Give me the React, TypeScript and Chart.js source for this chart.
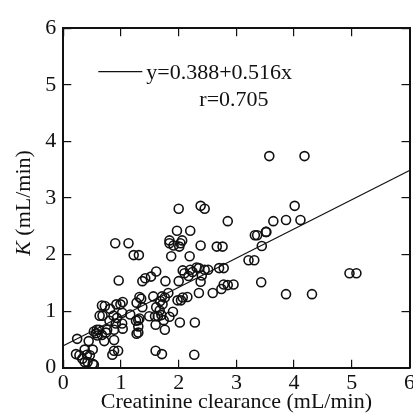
import React, { useEffect, useRef } from 'react';
import { Chart, registerables } from 'chart.js';

Chart.register(...registerables);

// Creatinine clearance (mL/min) for each observation
const creatinineClearance = [
  3.57, 4.18,
  2.38, 2.45, 2.0, 4.01, 2.85, 3.64, 3.86, 4.11, 1.97, 2.2, 3.32, 3.36, 3.51, 3.52,
  0.9, 1.13, 1.84, 1.84, 1.91, 2.06, 2.03, 2.01, 2.38, 2.66, 2.76, 3.44,
  1.22, 1.31, 1.87, 2.19, 3.21, 3.31, 2.7, 2.78, 2.31, 2.35, 2.45, 2.51,
  2.07, 2.2, 2.24, 2.1, 1.61, 1.52, 1.42, 1.37, 0.96, 1.77, 2.0, 2.38, 2.4, 2.17,
  3.43, 2.78, 2.85, 2.95, 2.74, 4.96, 5.08, 3.86, 4.31, 2.59, 2.35, 2.15, 2.07,
  1.98, 2.04, 1.82, 1.71, 1.76, 1.56, 1.68, 1.72, 1.61, 1.67, 1.9, 1.64, 1.7,
  1.59, 1.49, 1.84, 1.74, 1.6, 1.76, 2.02, 2.28,
  1.35, 1.32, 1.27, 1.37, 1.16, 1.02, 1.03, 0.99, 0.92, 0.67, 0.72, 0.81, 0.68,
  0.63, 0.87, 0.93, 0.8, 1.02, 0.91, 1.03, 0.88, 1.3, 1.32, 1.26, 1.3, 1.27, 1.3,
  0.76, 0.58, 0.62, 0.57, 0.53, 0.59, 0.67, 0.71, 0.74, 0.44, 0.24, 0.88,
  0.88, 0.95, 0.85, 0.51, 0.37, 0.22, 0.28, 0.41, 0.46, 0.33, 0.37, 0.42, 0.51,
  0.53, 1.6, 1.71, 2.27,
];

// K (mL/min) for each observation
const kValues = [
  3.74, 3.74,
  2.86, 2.81, 2.81, 2.86, 2.59, 2.59, 2.61, 2.61, 2.42, 2.42, 2.34, 2.34, 2.4, 2.4,
  2.2, 2.2, 2.25, 2.2, 2.16, 2.25, 2.2, 2.14, 2.16, 2.14, 2.14, 2.15,
  1.99, 1.99, 1.97, 1.97, 1.9, 1.9, 1.76, 1.76, 1.77, 1.76, 1.73, 1.73,
  1.72, 1.73, 1.69, 1.67, 1.7, 1.61, 1.58, 1.53, 1.54, 1.53, 1.53, 1.52, 1.63, 1.62,
  1.51, 1.47, 1.46, 1.47, 1.39, 1.67, 1.67, 1.3, 1.3, 1.32, 1.32, 1.25, 1.24,
  1.19, 1.19, 1.32, 1.26, 1.24, 1.26, 1.18, 1.12, 1.07, 1.01, 0.99, 0.91, 0.93,
  0.91, 0.91, 0.9, 0.84, 0.76, 0.67, 0.8, 0.8,
  1.22, 1.25, 1.15, 1.07, 0.94, 0.97, 1.16, 1.12, 1.12, 1.1, 1.09, 1.04, 0.92,
  0.92, 0.92, 0.88, 0.83, 0.78, 0.78, 0.69, 0.67, 0.84, 0.87, 0.83, 0.73, 0.6, 0.62,
  0.67, 0.67, 0.67, 0.61, 0.64, 0.57, 0.58, 0.47, 0.62, 0.47, 0.51, 0.49,
  0.3, 0.3, 0.23, 0.32, 0.32, 0.24, 0.22, 0.23, 0.22, 0.16, 0.1, 0.1, 0.07,
  0.05, 0.3, 0.24, 0.23,
];

// Regression line y = 0.388 + 0.516x
const fitIntercept = 0.388;
const fitSlope = 0.516;
const fitRangeX = [0, 6];

const axisMin = 0;
const axisMax = 6;
const axisStep = 1;

const legendEquation = 'y=0.388+0.516x';
const legendR = 'r=0.705';
const xTitle = 'Creatinine clearance (mL/min)';
const yTitleItalic = 'K';
const yTitleRest = ' (mL/min)';

const FONT = '"Liberation Serif", "Times New Roman", serif';
const FS = 22;
const INK = '#111';

const annotationPlugin = {
  id: 'annotations',
  afterDraw(chart: any) {
    const ctx = chart.ctx as CanvasRenderingContext2D;
    const { left, top } = chart.chartArea;
    ctx.save();
    // legend sample line
    ctx.strokeStyle = INK;
    ctx.lineWidth = 1.2;
    ctx.beginPath();
    ctx.moveTo(left + 35, top + 43.5);
    ctx.lineTo(left + 79, top + 43.5);
    ctx.stroke();
    ctx.fillStyle = INK;
    ctx.font = `${FS}px ${FONT}`;
    ctx.textAlign = 'left';
    ctx.textBaseline = 'alphabetic';
    ctx.fillText(legendEquation, left + 83, top + 50.5);
    ctx.fillText(legendR, left + 136, top + 77.5);

    // y axis title with italic K
    ctx.font = `italic ${FS}px ${FONT}`;
    const wK = ctx.measureText(yTitleItalic).width;
    ctx.font = `${FS}px ${FONT}`;
    const wR = ctx.measureText(yTitleRest).width;
    const total = wK + wR;
    const cy = (chart.chartArea.top + chart.chartArea.bottom) / 2 + 5;
    ctx.translate(24, cy);
    ctx.rotate(-Math.PI / 2);
    ctx.textBaseline = 'middle';
    ctx.font = `italic ${FS}px ${FONT}`;
    ctx.fillText(yTitleItalic, -total / 2, 0);
    ctx.font = `${FS}px ${FONT}`;
    ctx.fillText(yTitleRest, -total / 2 + wK, 0);
    ctx.restore();
  },
};

export default function App() {
  const ref = useRef<HTMLCanvasElement | null>(null);

  useEffect(() => {
    document.body.style.overflow = 'hidden';
    const canvas = ref.current;
    if (!canvas) return;

    const points = creatinineClearance.map((x, i) => ({ x, y: kValues[i] }));
    const fitPoints = fitRangeX.map((x) => ({ x, y: fitIntercept + fitSlope * x }));

    const tickFont = { family: FONT, size: FS };
    const hiddenAxis = (position: string, size: number) => ({
      type: 'linear',
      position,
      min: axisMin,
      max: axisMax,
      ticks: { display: false, stepSize: axisStep },
      grid: { drawOnChartArea: false, drawTicks: true, tickLength: -8, color: INK, lineWidth: 1.2 },
      border: { display: true, color: INK, width: 2 },
      afterFit: (scale: any) => {
        if (position === 'top') scale.height = size;
        else scale.width = size;
      },
    });

    const chart = new Chart(canvas, {
      type: 'scatter',
      data: {
        datasets: [
          {
            type: 'line',
            data: fitPoints,
            borderColor: INK,
            borderWidth: 1.2,
            pointRadius: 0,
            fill: false,
            order: 1,
          } as any,
          {
            data: points,
            pointRadius: 4.5,
            pointBorderWidth: 1.6,
            pointBorderColor: INK,
            pointBackgroundColor: 'rgba(0,0,0,0)',
            order: 2,
          },
        ],
      },
      options: {
        animation: false,
        responsive: false,
        devicePixelRatio: 1,
        layout: { padding: 0 },
        plugins: { legend: { display: false }, tooltip: { enabled: false } },
        scales: {
          x: {
            type: 'linear',
            position: 'bottom',
            min: axisMin,
            max: axisMax,
            ticks: { stepSize: axisStep, font: tickFont, color: INK, padding: 10, maxRotation: 0 },
            grid: { drawOnChartArea: false, drawTicks: true, tickLength: -8, color: INK, lineWidth: 1.2 },
            border: { display: true, color: INK, width: 2 },
            title: { display: true, text: xTitle, font: { family: FONT, size: FS, lineHeight: 1.1 }, color: INK, padding: 0 },
            afterFit: (scale: any) => { scale.height = 46.3; },
          },
          y: {
            type: 'linear',
            position: 'left',
            min: axisMin,
            max: axisMax,
            ticks: { stepSize: axisStep, font: tickFont, color: INK, padding: 15 },
            grid: { drawOnChartArea: false, drawTicks: true, tickLength: -8, color: INK, lineWidth: 1.2 },
            border: { display: true, color: INK, width: 2 },
            afterFit: (scale: any) => { scale.width = 63.3; },
          },
          x2: hiddenAxis('top', 14.7) as any,
          y2: hiddenAxis('right', 8.7) as any,
        },
      } as any,
      plugins: [annotationPlugin],
    });
    return () => chart.destroy();
  }, []);

  return (
    <div style={{ position: 'fixed', left: 0, top: 0, width: 425, height: 414, overflow: 'hidden', background: '#fff' }}>
      <canvas ref={ref} width={425} height={414} style={{ display: 'block', width: 425, height: 414 }} />
    </div>
  );
}
